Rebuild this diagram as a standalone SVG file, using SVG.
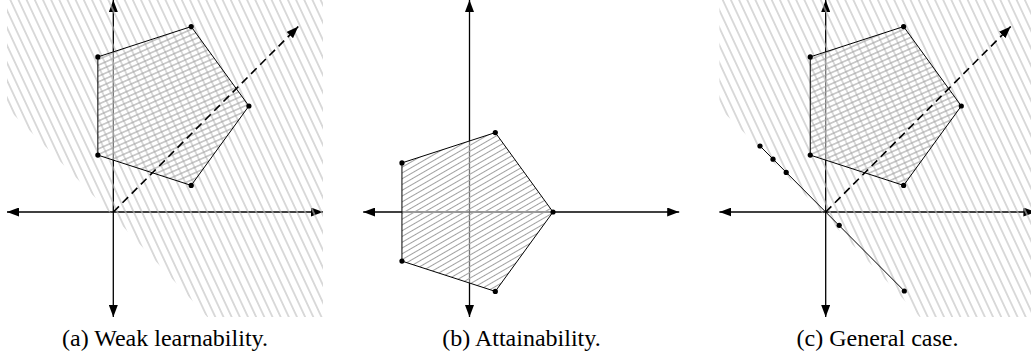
<svg xmlns="http://www.w3.org/2000/svg" width="1031" height="360" viewBox="0 0 1031 360">
<style>
.axis{stroke:#000;stroke-width:1.3;fill:none}
.edge{stroke:#000;stroke-width:1;fill:none}
.dash{stroke:#000;stroke-width:1.6;stroke-dasharray:8 5;fill:none}
.veil{fill:#fff;fill-opacity:0.45;stroke:none}
.region{fill:url(#bg);stroke:none}
.pt{fill:#000}
.cap{font-size:24px;fill:#000;text-anchor:middle}
</style>
<defs>
<marker id="ah" viewBox="0 0 12 9" refX="12" refY="4.5" markerWidth="12" markerHeight="9" markerUnits="userSpaceOnUse" orient="auto-start-reverse">
<path d="M0,0 L12,4.5 L0,9 Z" fill="#000"/>
</marker>
<marker id="ah2" viewBox="0 0 12 9" refX="12" refY="4.5" markerWidth="12" markerHeight="9" markerUnits="userSpaceOnUse" orient="auto">
<path d="M0,0 L12,4.5 L0,9 Z" fill="#000"/>
</marker>
<pattern id="bg" patternUnits="userSpaceOnUse" width="7.4" height="10" patternTransform="rotate(-25)">
<line x1="3.7" y1="-1" x2="3.7" y2="11" stroke="#bdbdbd" stroke-width="1.1"/>
</pattern>
<pattern id="hpa" patternUnits="userSpaceOnUse" width="5.1" height="10" patternTransform="rotate(66)">
<line x1="2.55" y1="-1" x2="2.55" y2="11" stroke="#a0a0a0" stroke-width="1"/>
</pattern>
<pattern id="hpb" patternUnits="userSpaceOnUse" width="5" height="10" patternTransform="rotate(60)">
<line x1="2.5" y1="-1" x2="2.5" y2="11" stroke="#a0a0a0" stroke-width="1"/>
</pattern>
</defs>

<!-- Panel (a) -->
<g id="panel-a" transform="translate(113.3,212)">
<g id="a-axes">
<line class="axis" x1="-106.3" y1="0" x2="209.7" y2="0" marker-start="url(#ah)" marker-end="url(#ah)"/>
<line class="axis" x1="0" y1="-212" x2="0" y2="105" marker-start="url(#ah)" marker-end="url(#ah)"/>
</g>
<g id="a-pentagon">
<polygon class="veil" points="135.6,-106 77.9,-185.4 -15.45,-155.1 -15.45,-56.9 77.9,-26.6"/>
<path id="a-halfplane" class="region" d="M-106.3,-212 H209.7 V105 H94 Q-8.3,-7 -106.3,-104 Z"/>
<polygon class="edge" points="135.6,-106 77.9,-185.4 -15.45,-155.1 -15.45,-56.9 77.9,-26.6" style="fill:url(#hpa)"/>
</g>
<g id="a-connectors">
<line class="dash" x1="0" y1="0" x2="185" y2="-185.5" marker-end="url(#ah2)"/>
</g>
<g id="a-points">
<circle class="pt" cx="135.6" cy="-106" r="2.6"/>
<circle class="pt" cx="77.9" cy="-185.4" r="2.6"/>
<circle class="pt" cx="-15.45" cy="-155.1" r="2.6"/>
<circle class="pt" cx="-15.45" cy="-56.9" r="2.6"/>
<circle class="pt" cx="77.9" cy="-26.6" r="2.6"/>
</g>
</g>

<!-- Panel (b) -->
<g id="panel-b" transform="translate(469.5,212)">
<g id="b-axes">
<line class="axis" x1="-106.3" y1="0" x2="209.7" y2="0" marker-start="url(#ah)" marker-end="url(#ah)"/>
<line class="axis" x1="0" y1="-212" x2="0" y2="105" marker-start="url(#ah)" marker-end="url(#ah)"/>
</g>
<g id="b-pentagon">
<polygon class="veil" points="83.5,0 25.8,-79.4 -67.55,-49.1 -67.55,49.1 25.8,79.4"/>
<polygon class="edge" points="83.5,0 25.8,-79.4 -67.55,-49.1 -67.55,49.1 25.8,79.4" style="fill:url(#hpb)"/>
</g>
<g id="b-points">
<circle class="pt" cx="83.5" cy="0" r="2.6"/>
<circle class="pt" cx="25.8" cy="-79.4" r="2.6"/>
<circle class="pt" cx="-67.55" cy="-49.1" r="2.6"/>
<circle class="pt" cx="-67.55" cy="49.1" r="2.6"/>
<circle class="pt" cx="25.8" cy="79.4" r="2.6"/>
</g>
</g>

<!-- Panel (c) -->
<g id="panel-c" transform="translate(825.7,212)">
<g id="c-axes">
<line class="axis" x1="-106.3" y1="0" x2="209.7" y2="0" marker-start="url(#ah)" marker-end="url(#ah)"/>
<line class="axis" x1="0" y1="-212" x2="0" y2="105" marker-start="url(#ah)" marker-end="url(#ah)"/>
</g>
<g id="c-pentagon">
<polygon class="veil" points="135.6,-106 77.9,-185.4 -15.45,-155.1 -15.45,-56.9 77.9,-26.6"/>
<path id="c-halfplane" class="region" d="M-106.3,-212 H209.7 V105 H94 Q-8.3,-7 -106.3,-104 Z"/>
<polygon class="edge" points="135.6,-106 77.9,-185.4 -15.45,-155.1 -15.45,-56.9 77.9,-26.6" style="fill:url(#hpa)"/>
</g>
<g id="c-connectors">
<line class="edge" x1="-65.7" y1="-66" x2="78.6" y2="79"/>
<line class="dash" x1="0" y1="0" x2="185" y2="-185.5" marker-end="url(#ah2)"/>
</g>
<g id="c-points">
<circle class="pt" cx="135.6" cy="-106" r="2.6"/>
<circle class="pt" cx="77.9" cy="-185.4" r="2.6"/>
<circle class="pt" cx="-15.45" cy="-155.1" r="2.6"/>
<circle class="pt" cx="-15.45" cy="-56.9" r="2.6"/>
<circle class="pt" cx="77.9" cy="-26.6" r="2.6"/>
<circle class="pt" cx="-65.7" cy="-66" r="2.6"/>
<circle class="pt" cx="-52.7" cy="-52.8" r="2.6"/>
<circle class="pt" cx="-39.5" cy="-39.6" r="2.6"/>
<circle class="pt" cx="13.5" cy="13.3" r="2.6"/>
<circle class="pt" cx="78.6" cy="79" r="2.6"/>
</g>
</g>

<g id="captions" font-family="'Liberation Serif', 'Times New Roman', 'DejaVu Serif', serif">
<text class="cap" x="165" y="346" font-family="'Liberation Serif', 'Times New Roman', serif">(a) Weak learnability.</text>
<text class="cap" x="521.5" y="346" font-family="'Liberation Serif', 'Times New Roman', serif">(b) Attainability.</text>
<text class="cap" x="877.5" y="346" font-family="'Liberation Serif', 'Times New Roman', serif">(c) General case.</text>
</g>
</svg>
